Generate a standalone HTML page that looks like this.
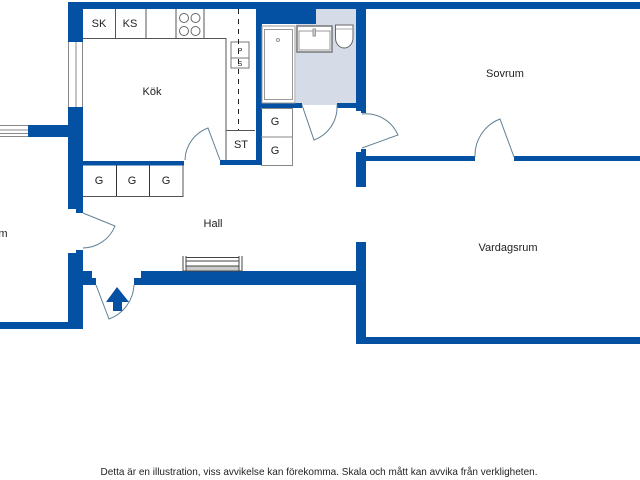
<!DOCTYPE html>
<html><head><meta charset="utf-8"><style>
html,body{margin:0;padding:0;background:#fff}
svg{display:block}
text{font-family:"Liberation Sans",sans-serif;fill:#222;text-anchor:middle}
</style></head><body>
<svg width="640" height="480" viewBox="0 0 640 480" xmlns="http://www.w3.org/2000/svg">
<rect width="640" height="480" fill="#fff"/>
<!-- bath floor -->
<path d="M316 9H356V105H296V24H316Z" fill="#d5dce8"/>
<!-- walls -->
<g fill="#0451a3">
<rect x="68" y="2" width="572" height="7"/>
<rect x="68" y="2" width="15" height="40"/>
<path d="M68 107H83V209H68Z"/>
<rect x="76" y="209" width="7" height="4"/>
<rect x="28" y="125" width="40" height="12"/>
<path d="M68 253H76V250H83V329H0V322H68Z"/>
<path d="M83 271H92V278H96V285H83Z"/>
<path d="M134 285V278H141V271H356V285Z"/>
<rect x="356" y="242" width="10" height="102"/>
<rect x="366" y="337" width="274" height="7"/>
<path d="M356 9H366V113H361V111H356Z"/>
<path d="M361 149H366V156H475V161H366V187H356V152H361Z"/>
<rect x="514" y="156" width="126" height="5"/>
<path d="M256 9H316V24H262V103H302V108H262V165H220V160H256Z"/>
<rect x="337" y="103" width="19" height="5"/>
<rect x="83" y="161" width="101" height="4.500"/>
</g>
<!-- windows -->
<g stroke="#888" stroke-width="1" fill="none">
<path d="M68.500 42V107M76 42V107M82.500 42V107"/>
<path d="M0 125.500H28M0 130H28M0 133.500H28M0 136.500H28"/>
</g>
<!-- kitchen counters -->
<g stroke="#555" stroke-width="1" fill="none">
<path d="M83 38.500H226V160"/>
<path d="M115.500 9V38M146 9V38M176 9V38M204 9V38"/>
<path d="M226 130.500H255"/>
<rect x="231" y="42" width="18" height="16" stroke="#777" fill="#fff"/>
<rect x="231" y="58" width="18" height="10" stroke="#777" fill="#fff"/>
<path d="M238.500 9V130" stroke="#222" stroke-dasharray="5 5"/>
<g stroke="#666"><circle cx="184" cy="18" r="4.500"/><circle cx="195.500" cy="18" r="4.500"/><circle cx="184" cy="31" r="4.500"/><circle cx="195.500" cy="31" r="4.500"/></g>
</g>
<!-- hall cabinets -->
<g stroke="#555" stroke-width="1" fill="none">
<path d="M83 196.500H183V165"/>
<path d="M116.500 165V196M149.500 165V196" stroke="#333"/>
<path d="M261 108.500H292.500V165.500H261M261 137H292" stroke="#888"/>
</g>
<!-- bath fixtures -->
<g fill="#fff" stroke="#999">
<rect x="262" y="26" width="33" height="77" stroke-width="1"/>
<rect x="264.500" y="29.500" width="28" height="70" stroke-width="1"/>
<rect x="297" y="26" width="35" height="26" stroke="#777" stroke-width="1.500"/>
<rect x="299" y="31" width="31" height="19" stroke="#999" stroke-width="1"/>
<rect x="313" y="29" width="2.500" height="7" fill="#ccc"/>
<circle cx="278" cy="40" r="1.500" fill="none"/>
<path d="M335.500 25H353V38A8.750 10 0 0 1 335.500 38Z" stroke="#666"/>
<path d="M336 29H353" stroke="#aaa"/>
</g>
<!-- doors -->
<g fill="none" stroke="#5f8093" stroke-width="1">
<path d="M220 160L208 128A35 35 0 0 0 185 160"/>
<path d="M302 105L314 140A35 35 0 0 0 337 105"/>
<path d="M362 148L398 135A35 35 0 0 0 362 114"/>
<path d="M514 157L500 119A39 39 0 0 0 475 157"/>
<path d="M83 213L115 226A35 35 0 0 1 83 248"/>
<path d="M96 285L109 319A38 38 0 0 0 134 285"/>
</g>
<!-- arrow -->
<path d="M117 287L129 302H122V311H113V302H106Z" fill="#0451a3"/>
<!-- radiator -->
<g fill="none" stroke="#444" stroke-width="1">
<rect x="186" y="266" width="53" height="5" fill="#ccc" stroke="none"/>
<path d="M183 256V271M186 256V271M239 256V271M242 256V271M186 257.500H239M186 261H239M186 266H239M183 271H242"/>
</g>
<!-- labels -->
<g font-size="11">
<text x="99" y="27">SK</text><text x="130" y="27">KS</text>
<text x="241" y="148">ST</text>
<text x="275" y="125">G</text><text x="275" y="154">G</text>
<text x="99" y="184">G</text><text x="132" y="184">G</text><text x="166" y="184">G</text>
<text x="152" y="95">Kök</text>
<text x="505" y="77">Sovrum</text>
<text x="508" y="251">Vardagsrum</text>
<text x="213" y="227">Hall</text>
<text x="3" y="237">m</text>
</g>
<g font-size="7"><text x="240" y="53">P</text><text x="240" y="66">S</text></g>
<text x="319" y="475" font-size="10.500" textLength="437" lengthAdjust="spacingAndGlyphs">Detta är en illustration, viss avvikelse kan förekomma. Skala och mått kan avvika från verkligheten.</text>
</svg>
</body></html>
